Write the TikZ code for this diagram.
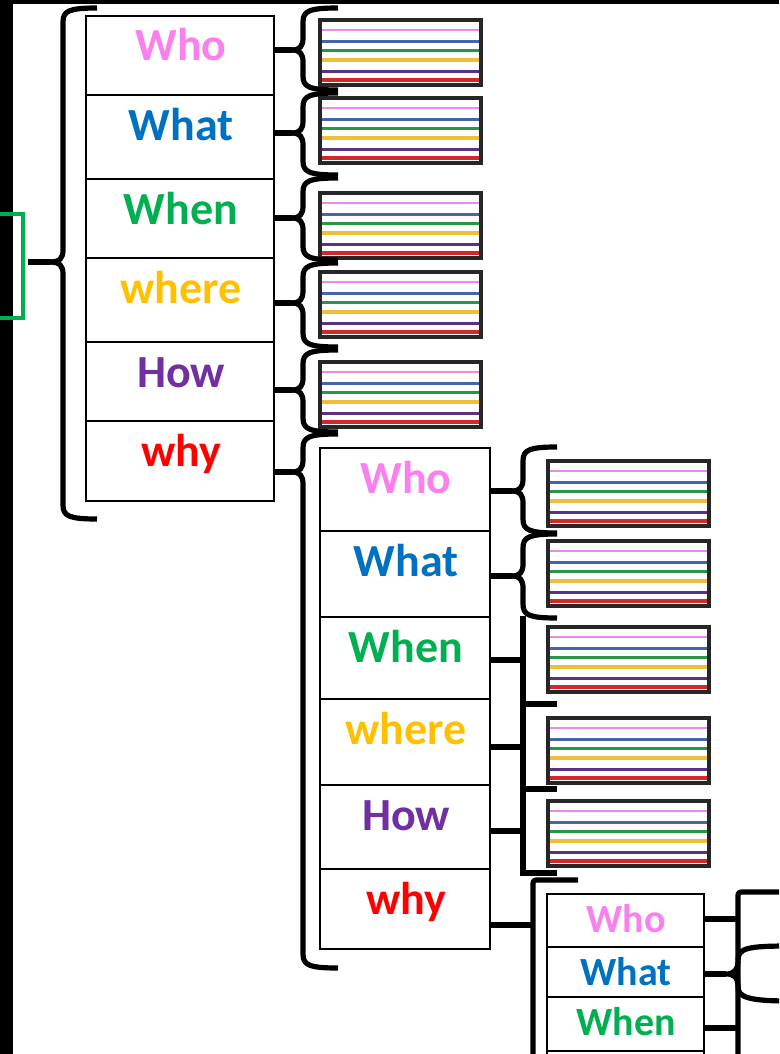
\documentclass[tikz,border=0pt]{standalone}
\usepackage{fontspec}
\setmainfont{Carlito}
\usetikzlibrary{calc}
\definecolor{cwho}{RGB}{250,128,238}
\definecolor{cwhat}{RGB}{0,112,192}
\definecolor{cwhen}{RGB}{0,176,80}
\definecolor{cwhere}{RGB}{255,192,0}
\definecolor{chow}{RGB}{112,48,160}
\definecolor{cwhy}{RGB}{255,0,0}
\definecolor{lpink}{RGB}{235,140,235}
\definecolor{lblue}{RGB}{70,100,170}
\definecolor{lgreen}{RGB}{40,150,70}
\definecolor{lyellow}{RGB}{240,190,60}
\definecolor{lpurple}{RGB}{90,50,130}
\definecolor{lred}{RGB}{210,40,40}
\tikzset{
  cell/.style={draw=black, line width=1.7pt, anchor=north west, inner sep=0pt, outer sep=0pt},
  word/.style={anchor=base, inner sep=0pt, font=\bfseries\fontsize{46}{46}\selectfont},
  smallword/.style={anchor=base, inner sep=0pt, font=\bfseries\fontsize{40}{40}\selectfont},
  lined/.style={draw=black!85, line width=3.4pt, anchor=north west, inner sep=0pt, outer sep=0pt,
    minimum width=161pt, minimum height=65pt,
    path picture={
      \foreach \f/\c/\w in {0.154/lpink/2.6pt, 0.33/lblue/2.6pt, 0.47/lgreen/2.8pt, 0.615/lyellow/3.2pt, 0.79/lpurple/3pt, 0.923/lred/3.2pt}{
        \draw[\c, line width=\w] ($(path picture bounding box.north west)!\f!(path picture bounding box.south west)$) -- ($(path picture bounding box.north east)!\f!(path picture bounding box.south east)$);
      }
    }},
  brace/.style={line width=5.2pt, line join=round},
  tick/.style={line width=5.5pt},
  gbr/.style={draw=cwhen, line width=4.6pt, line join=miter},
}
\newcommand{\curlybrace}[6]{%
  \draw[brace] (#5,#2) .. controls ({#1+6},#2) and (#1,{#2+3}) .. (#1,{#2+14}) -- (#1,{#3-12}) .. controls (#1,{#3-4}) and ({#1-3},#3) .. (#6,#3);
  \draw[brace] (#6,#3) .. controls ({#1-3},#3) and (#1,{#3+4}) .. (#1,{#3+12}) -- (#1,{#4-14}) .. controls (#1,{#4-3}) and ({#1+6},#4) .. (#5,#4);
}
\begin{document}
\begin{tikzpicture}[x=1pt,y=-1pt]
\useasboundingbox (0,0) rectangle (779,1054);
\clip (0,0) rectangle (779,1054);
\fill[white] (0,0) rectangle (779,1054);
\fill[black] (0,0) rectangle (13,1054);
\fill[black] (0,0) rectangle (779,4);

% level 1 cells
\foreach \i/\t/\h/\w/\c in {1/16/79/Who/cwho, 2/95/84/What/cwhat, 3/179/79/When/cwhen, 4/258/84/where/cwhere, 5/342/79/How/chow, 6/421/80/why/cwhy}{
  \node[cell, minimum width=188pt, minimum height=\h pt] (a\i) at (86,\t) {};
  \node[word, text=\c] (ta\i) at (181,{\t+45}) {\w};
}
% level 2 cells
\foreach \i/\t/\h/\w/\c in {1/448/83/Who/cwho, 2/531/86/What/cwhat, 3/617/82/When/cwhen, 4/699/86/where/cwhere, 5/785/84/How/chow, 6/869/80/why/cwhy}{
  \node[cell, minimum width=170pt, minimum height=\h pt] (b\i) at (320,\t) {};
  \node[word, text=\c] (tb\i) at (406,{\t+45}) {\w};
}
% level 3 cells
\foreach \i/\t/\h/\w/\c in {1/894/53/Who/cwho, 2/947/50/What/cwhat, 3/997/54/When/cwhen}{
  \node[cell, minimum width=157pt, minimum height=\h pt] (c\i) at (547,\t) {};
  \node[smallword, text=\c] (tc\i) at (626,{\t+38}) {\w};
}
\node[cell, minimum width=157pt, minimum height=53pt] (c4) at (547,1051) {};

% lined boxes level 1
\foreach \i/\t in {1/20, 2/98, 3/193, 4/272, 5/362}{
  \node[lined] (n\i) at (320,\t) {};
}
% lined boxes level 2
\foreach \i/\t in {1/461, 2/541, 3/627, 4/718, 5/801}{
  \node[lined] (m\i) at (548,\t) {};
}

% green bracket
\draw[gbr] (-3,214) -- (23,214) -- (23,318) -- (-3,318);
\coordinate (g) at (28,262);

% left big brace
\curlybrace{63}{8}{262}{519}{97}{50}
\coordinate (ka0) at (50,262);
\draw[tick] (g) -- (ka0);

% level 1 right braces
\foreach \i/\t/\m/\b in {1/8/50/90, 2/93/133/175, 3/178/218/260, 4/263/303/347, 5/350/390/432, 6/434/472/968}{
  \curlybrace{303}{\t}{\m}{\b}{338}{292}
  \coordinate (ka\i) at (292,\m);
  \draw[tick] (a\i.east |- ka\i) -- (ka\i);
}

% level 2 right braces (curly)
\foreach \i/\t/\m/\b in {1/447/491/533, 2/534/576/618}{
  \curlybrace{523}{\t}{\m}{\b}{557}{512}
  \coordinate (kb\i) at (512,\m);
  \draw[tick] (b\i.east |- kb\i) -- (kb\i);
}
% level 2 straight bracket
\draw[brace, line join=miter] (523,616) -- (523,873) -- (557,873);
\draw[brace] (523,704) -- (557,704);
\draw[brace] (523,789) -- (557,789);
\foreach \i/\m in {3/660, 4/747, 5/831}{
  \coordinate (kb\i) at (523,\m);
  \draw[tick] (b\i.east |- kb\i) -- (kb\i);
}
% level 3 left bracket
\draw[brace, rounded corners=3pt] (578,880) -- (533,880) -- (533,1070);
\coordinate (kb6) at (533,925);
\draw[tick] (b6.east |- kb6) -- (kb6);

% level 3 right bracket
\draw[brace, rounded corners=3pt] (790,892) -- (738,892) -- (738,1070);
\draw[brace] (790,946) .. controls (748,946) and (738,948) .. (738,960);
\draw[brace] (738,987) .. controls (738,997) and (748,1001) .. (790,1001);
\draw[brace] (738,961) .. controls (738,970) and (734,974) .. (726,974) .. controls (734,974) and (738,977) .. (738,987);
\coordinate (kc2) at (726,974);
\draw[tick] (c2.east |- kc2) -- (kc2);
\coordinate (kc1) at (738,919);
\draw[tick] (c1.east |- kc1) -- (kc1);
\coordinate (kc3) at (738,1028);
\draw[tick] (c3.east |- kc3) -- (kc3);
\end{tikzpicture}
\end{document}
